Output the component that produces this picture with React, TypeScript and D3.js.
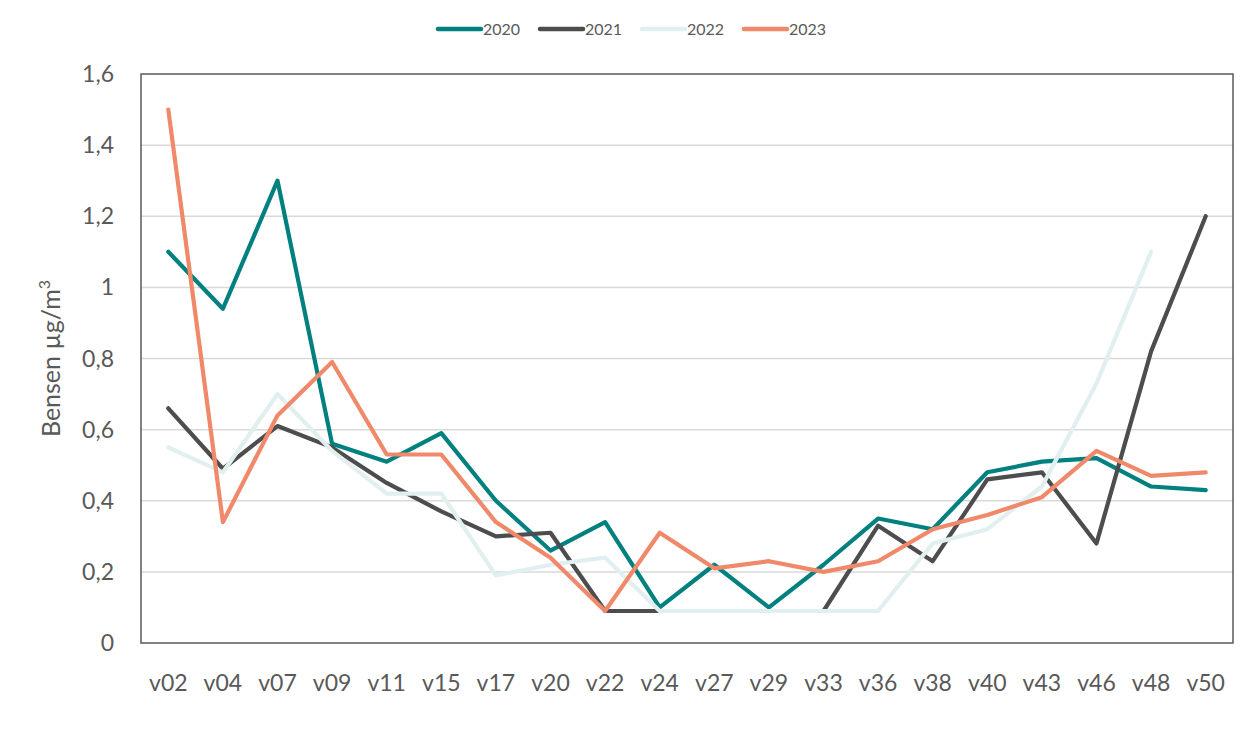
import React from "react";
import * as d3 from "d3";

const categories = ["v02","v04","v07","v09","v11","v15","v17","v20","v22","v24","v27","v29","v33","v36","v38","v40","v43","v46","v48","v50"];
const s2020 = [1.10,0.94,1.30,0.56,0.51,0.59,0.40,0.26,0.34,0.10,0.22,0.10,0.22,0.35,0.32,0.48,0.51,0.52,0.44,0.43];
const s2021 = [0.66,0.49,0.61,0.55,0.45,0.37,0.30,0.31,0.09,0.09,0.09,0.09,0.09,0.33,0.23,0.46,0.48,0.28,0.82,1.20];
const s2022: (number|null)[] = [0.55,0.48,0.70,0.54,0.42,0.42,0.19,0.22,0.24,0.09,0.09,0.09,0.09,0.09,0.28,0.32,0.44,0.73,1.10,null];
const s2023 = [1.50,0.34,0.64,0.79,0.53,0.53,0.34,0.24,0.09,0.31,0.21,0.23,0.20,0.23,0.32,0.36,0.41,0.54,0.47,0.48];
const yTicks = [0,0.2,0.4,0.6,0.8,1.0,1.2,1.4,1.6];
const seriesNames = ["2020","2021","2022","2023"];
const seriesColors = ["#00807F","#4D4D4D","#E2EFF1","#F0896A"];
const seriesData = [s2020,s2021,s2022,s2023];

const W = 1260, H = 733;
const left = 141, right = 1233, top = 74, bottom = 643;
const font = "Lato, 'Open Sans', sans-serif";

export default function App() {
  const x = d3.scalePoint<string>().domain(categories).range([left, right]).padding(0.5);
  const y = d3.scaleLinear().domain([0,1.6]).range([bottom, top]);
  const line = d3.line<number|null>()
    .defined(d => d !== null)
    .x((_, i) => x(categories[i])!)
    .y(d => y(d as number));
  const fmt = (v: number) => String(+v.toFixed(1)).replace(".", ",");
  const legendX = [438, 540, 642, 744];
  return (
    <svg width={W} height={H} style={{ position: "absolute", left: 0, top: 0, background: "#fff" }}>
      <rect x={0} y={0} width={W} height={H} fill="#fff" />
      {yTicks.filter(t => t > 0 && t < 1.6).map(t => (
        <line key={t} x1={left} x2={right} y1={y(t)} y2={y(t)} stroke="#D9D9D9" strokeWidth={1.5} />
      ))}
      <rect x={left} y={top} width={right - left} height={bottom - top} fill="none" stroke="#595959" strokeWidth={1.5} />
      {yTicks.map(t => (
        <text key={t} x={114} y={y(t)} dy="0.35em" textAnchor="end" fontFamily={font} fontSize={23} fill="#595959">{fmt(t)}</text>
      ))}
      {categories.map(c => (
        <text key={c} x={x(c)!} y={691} textAnchor="middle" fontFamily={font} fontSize={23} fill="#595959">{c}</text>
      ))}
      <text transform={`translate(60,${(top + bottom) / 2}) rotate(-90)`} textAnchor="middle" fontFamily={font} fontSize={25} fill="#595959">
        Bensen µg/m<tspan dy={-10} fontSize={16}>3</tspan>
      </text>
      {seriesData.map((s, i) => (
        <path key={i} d={line(s as (number|null)[])!} fill="none" stroke={seriesColors[i]} strokeWidth={4.2} strokeLinejoin="round" strokeLinecap="round" />
      ))}
      {seriesNames.map((n, i) => (
        <g key={n}>
          <line x1={legendX[i]} x2={legendX[i] + 43} y1={29} y2={29} stroke={seriesColors[i]} strokeWidth={4.5} strokeLinecap="round" />
          <text x={legendX[i] + 45} y={29} dy="0.35em" fontFamily={font} fontSize={16} fill="#595959">{n}</text>
        </g>
      ))}
    </svg>
  );
}
